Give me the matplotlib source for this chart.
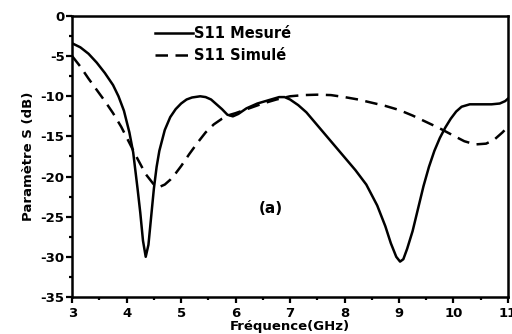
import matplotlib
matplotlib.use('Agg')
import matplotlib.pyplot as plt
from matplotlib.ticker import MultipleLocator

plt.rcParams['font.family'] = ['DejaVu Sans']
plt.rcParams['font.weight'] = 'bold'
plt.rcParams['axes.unicode_minus'] = False

# S11 mesuré (trait plein)
freq_mes = [3.0, 3.15, 3.3, 3.45, 3.6, 3.75, 3.85, 3.95, 4.05, 4.12, 4.2, 4.25, 4.3, 4.35,
            4.4, 4.45, 4.5, 4.55, 4.6, 4.7, 4.8, 4.9, 5.0, 5.1, 5.2, 5.35, 5.45, 5.55,
            5.65, 5.75, 5.85, 5.95, 6.05, 6.2, 6.4, 6.6, 6.8, 6.9, 7.0, 7.15, 7.3, 7.45,
            7.6, 7.8, 8.0, 8.2, 8.4, 8.6, 8.75, 8.85, 8.95, 9.02, 9.08, 9.15, 9.25, 9.35,
            9.45, 9.55, 9.65, 9.75, 9.85, 9.95, 10.05, 10.15, 10.3, 10.5, 10.7, 10.85,
            10.95, 11.0]
s11_mes = [-3.4, -3.9, -4.7, -5.8, -7.1, -8.6, -10.0, -11.8, -14.5, -17.0, -21.5, -24.5, -28.0, -30.0,
           -28.5, -25.0, -21.5, -18.8, -16.8, -14.2, -12.6, -11.6, -10.9, -10.4, -10.15, -10.0, -10.1, -10.4,
           -11.0, -11.6, -12.3, -12.5, -12.2, -11.5, -10.9, -10.5, -10.1, -10.1, -10.4, -11.1, -12.0, -13.2,
           -14.4, -16.0, -17.6, -19.2, -21.0, -23.6, -26.2, -28.3, -30.0, -30.6, -30.3, -29.0, -26.8, -24.0,
           -21.2, -18.8, -16.8, -15.2, -13.9, -12.8, -11.9, -11.3, -11.0, -11.0, -11.0, -10.9,
           -10.6, -10.3]

# S11 simulé (tirets)
freq_sim = [3.0, 3.15, 3.3, 3.45, 3.6, 3.75, 3.9, 4.05, 4.2, 4.35, 4.5, 4.6, 4.7, 4.8,
            4.9, 5.0, 5.15, 5.3, 5.45, 5.6, 5.75, 5.9, 6.0, 6.25, 6.5, 6.75, 7.0, 7.25,
            7.5, 7.75, 8.0, 8.25, 8.5, 8.75, 9.0, 9.25, 9.5, 9.75, 10.0, 10.2, 10.4, 10.6,
            10.75, 10.9, 11.0]
s11_sim = [-5.0, -6.3, -7.8, -9.2, -10.6, -12.1, -13.8, -15.8, -17.8, -19.7, -21.0, -21.3, -21.0, -20.4,
           -19.6, -18.7, -17.2, -15.8, -14.5, -13.5, -12.8, -12.3, -12.1, -11.5, -10.9, -10.4, -10.0, -9.85,
           -9.8, -9.85, -10.1, -10.4, -10.8, -11.2, -11.7, -12.4, -13.2, -14.0, -14.9, -15.6, -16.0, -15.9,
           -15.4, -14.5, -13.8]

fig = plt.figure(figsize=(5.12, 3.34), dpi=100)
ax = fig.add_axes([0.141, 0.111, 0.851, 0.841])

ax.plot(freq_mes, s11_mes, color='black', lw=1.8, label='S11 Mesuré')
ax.plot(freq_sim, s11_sim, color='black', lw=1.8, linestyle=(0, (5, 3)), label='S11 Simulé')

ax.set_xlim(3, 11)
ax.set_ylim(-35, 0)
ax.xaxis.set_major_locator(MultipleLocator(1))
ax.xaxis.set_minor_locator(MultipleLocator(0.5))
ax.yaxis.set_major_locator(MultipleLocator(5))
ax.yaxis.set_minor_locator(MultipleLocator(2.5))
ax.tick_params(which='major', direction='out', length=4, width=1.6, labelsize=9.5, pad=1.5)
ax.tick_params(axis='x', which='major', pad=3)
ax.tick_params(which='minor', direction='out', length=2.5, width=1.6)
for s in ax.spines.values():
    s.set_linewidth(1.8)

ax.set_xlabel('Fréquence(GHz)', fontsize=9.5, fontweight='bold', labelpad=0)
ax.set_ylabel('Paramètre S (dB)', fontsize=9.5, fontweight='bold', labelpad=4)

ax.text(6.42, -24, '(a)', fontsize=11, fontweight='bold', ha='left', va='center')

leg = ax.legend(loc='upper left', bbox_to_anchor=(0.16, 1.01), frameon=False,
                handlelength=2.6, handletextpad=0.1, labelspacing=0.45,
                prop={'size': 10.5, 'weight': 'bold'})

fig.savefig('out.png', dpi=100)
